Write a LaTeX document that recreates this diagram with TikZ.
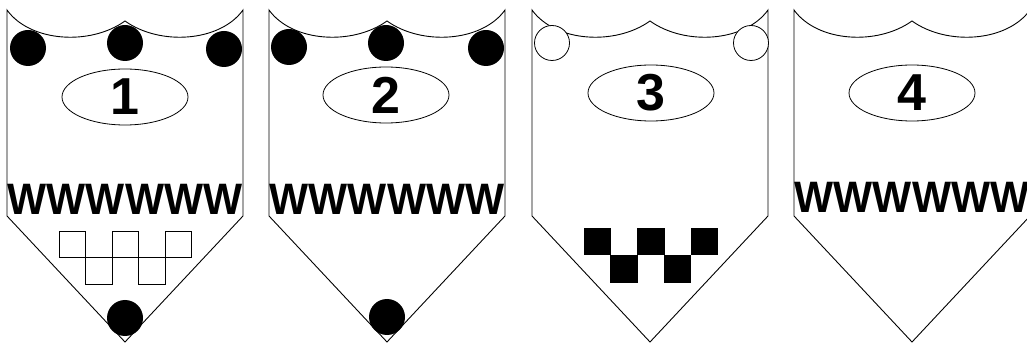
\documentclass[tikz,border=0pt]{standalone}
\usepackage{fontspec}
\setmainfont{Liberation Sans}
\usetikzlibrary{shapes.geometric}

\begin{document}
\begin{tikzpicture}[x=1pt,y=-1pt,
    outline/.style={draw,line width=0.9pt},
    badge/.style={draw,ellipse,line width=0.8pt,minimum width=126pt,minimum height=56pt,inner sep=0pt,
      font=\fontsize{52}{52}\selectfont\bfseries},
    fringe/.style={inner sep=0pt,anchor=base,font=\fontsize{44}{44}\selectfont\bfseries},
    dot/.style={fill=black},
    ring/.style={draw,line width=0.8pt,fill=white},
    tile/.style={draw,line width=0.8pt},
    shield/.pic={
      \draw[outline] (-118,10) .. controls (-95,42) and (-35,46) .. (0,21)
        .. controls (35,46) and (95,42) .. (118,10) -- (118,216) -- (0,342) -- (-118,216) -- cycle;
    }
  ]
    \useasboundingbox (0,0) rectangle (1027,344);

    % four shields
    \pic (s1) at (125,0) {shield};
    \pic (s2) at (387,0) {shield};
    \pic (s3) at (650,0) {shield};
    \pic (s4) at (912,0) {shield};

    % shield 1
    \fill[dot] (28,48) circle[radius=18pt] (125,43) circle[radius=18pt] (224,49) circle[radius=18pt];
    \node[badge] (badge1) at (125,97) {1};
    \node[fringe] (fringe1) at (125,215) {\scalebox{0.94}[1]{WWWWWW}};
    \foreach \i in {0,...,4} {
      \pgfmathsetmacro{\top}{mod(\i,2)==0 ? 231 : 257.5}
      \draw[tile] (59+26.5*\i,\top) rectangle ++(26.5,26.5);
    }
    \fill[dot] (125,318) circle[radius=18pt];

    % shield 2
    \fill[dot] (289,47) circle[radius=18pt] (386,43) circle[radius=18pt] (486,48) circle[radius=18pt];
    \node[badge] (badge2) at (386,95) {2};
    \node[fringe] (fringe2) at (387,215) {\scalebox{0.94}[1]{WWWWWW}};
    \fill[dot] (387,317) circle[radius=18pt];

    % shield 3
    \draw[ring] (552,43) circle[radius=17.5pt] (751,43) circle[radius=17.5pt];
    \node[badge] (badge3) at (651,93) {3};
    \foreach \i in {0,...,4} {
      \pgfmathsetmacro{\top}{mod(\i,2)==0 ? 228 : 255.5}
      \fill (583.5+26.8*\i,\top) rectangle ++(27.5,27.5);
    }

    % shield 4
    \node[badge] (badge4) at (912,93) {4};
    \node[fringe] (fringe4) at (912,213) {\scalebox{0.94}[1]{WWWWWW}};
  \end{tikzpicture}
\end{document}
